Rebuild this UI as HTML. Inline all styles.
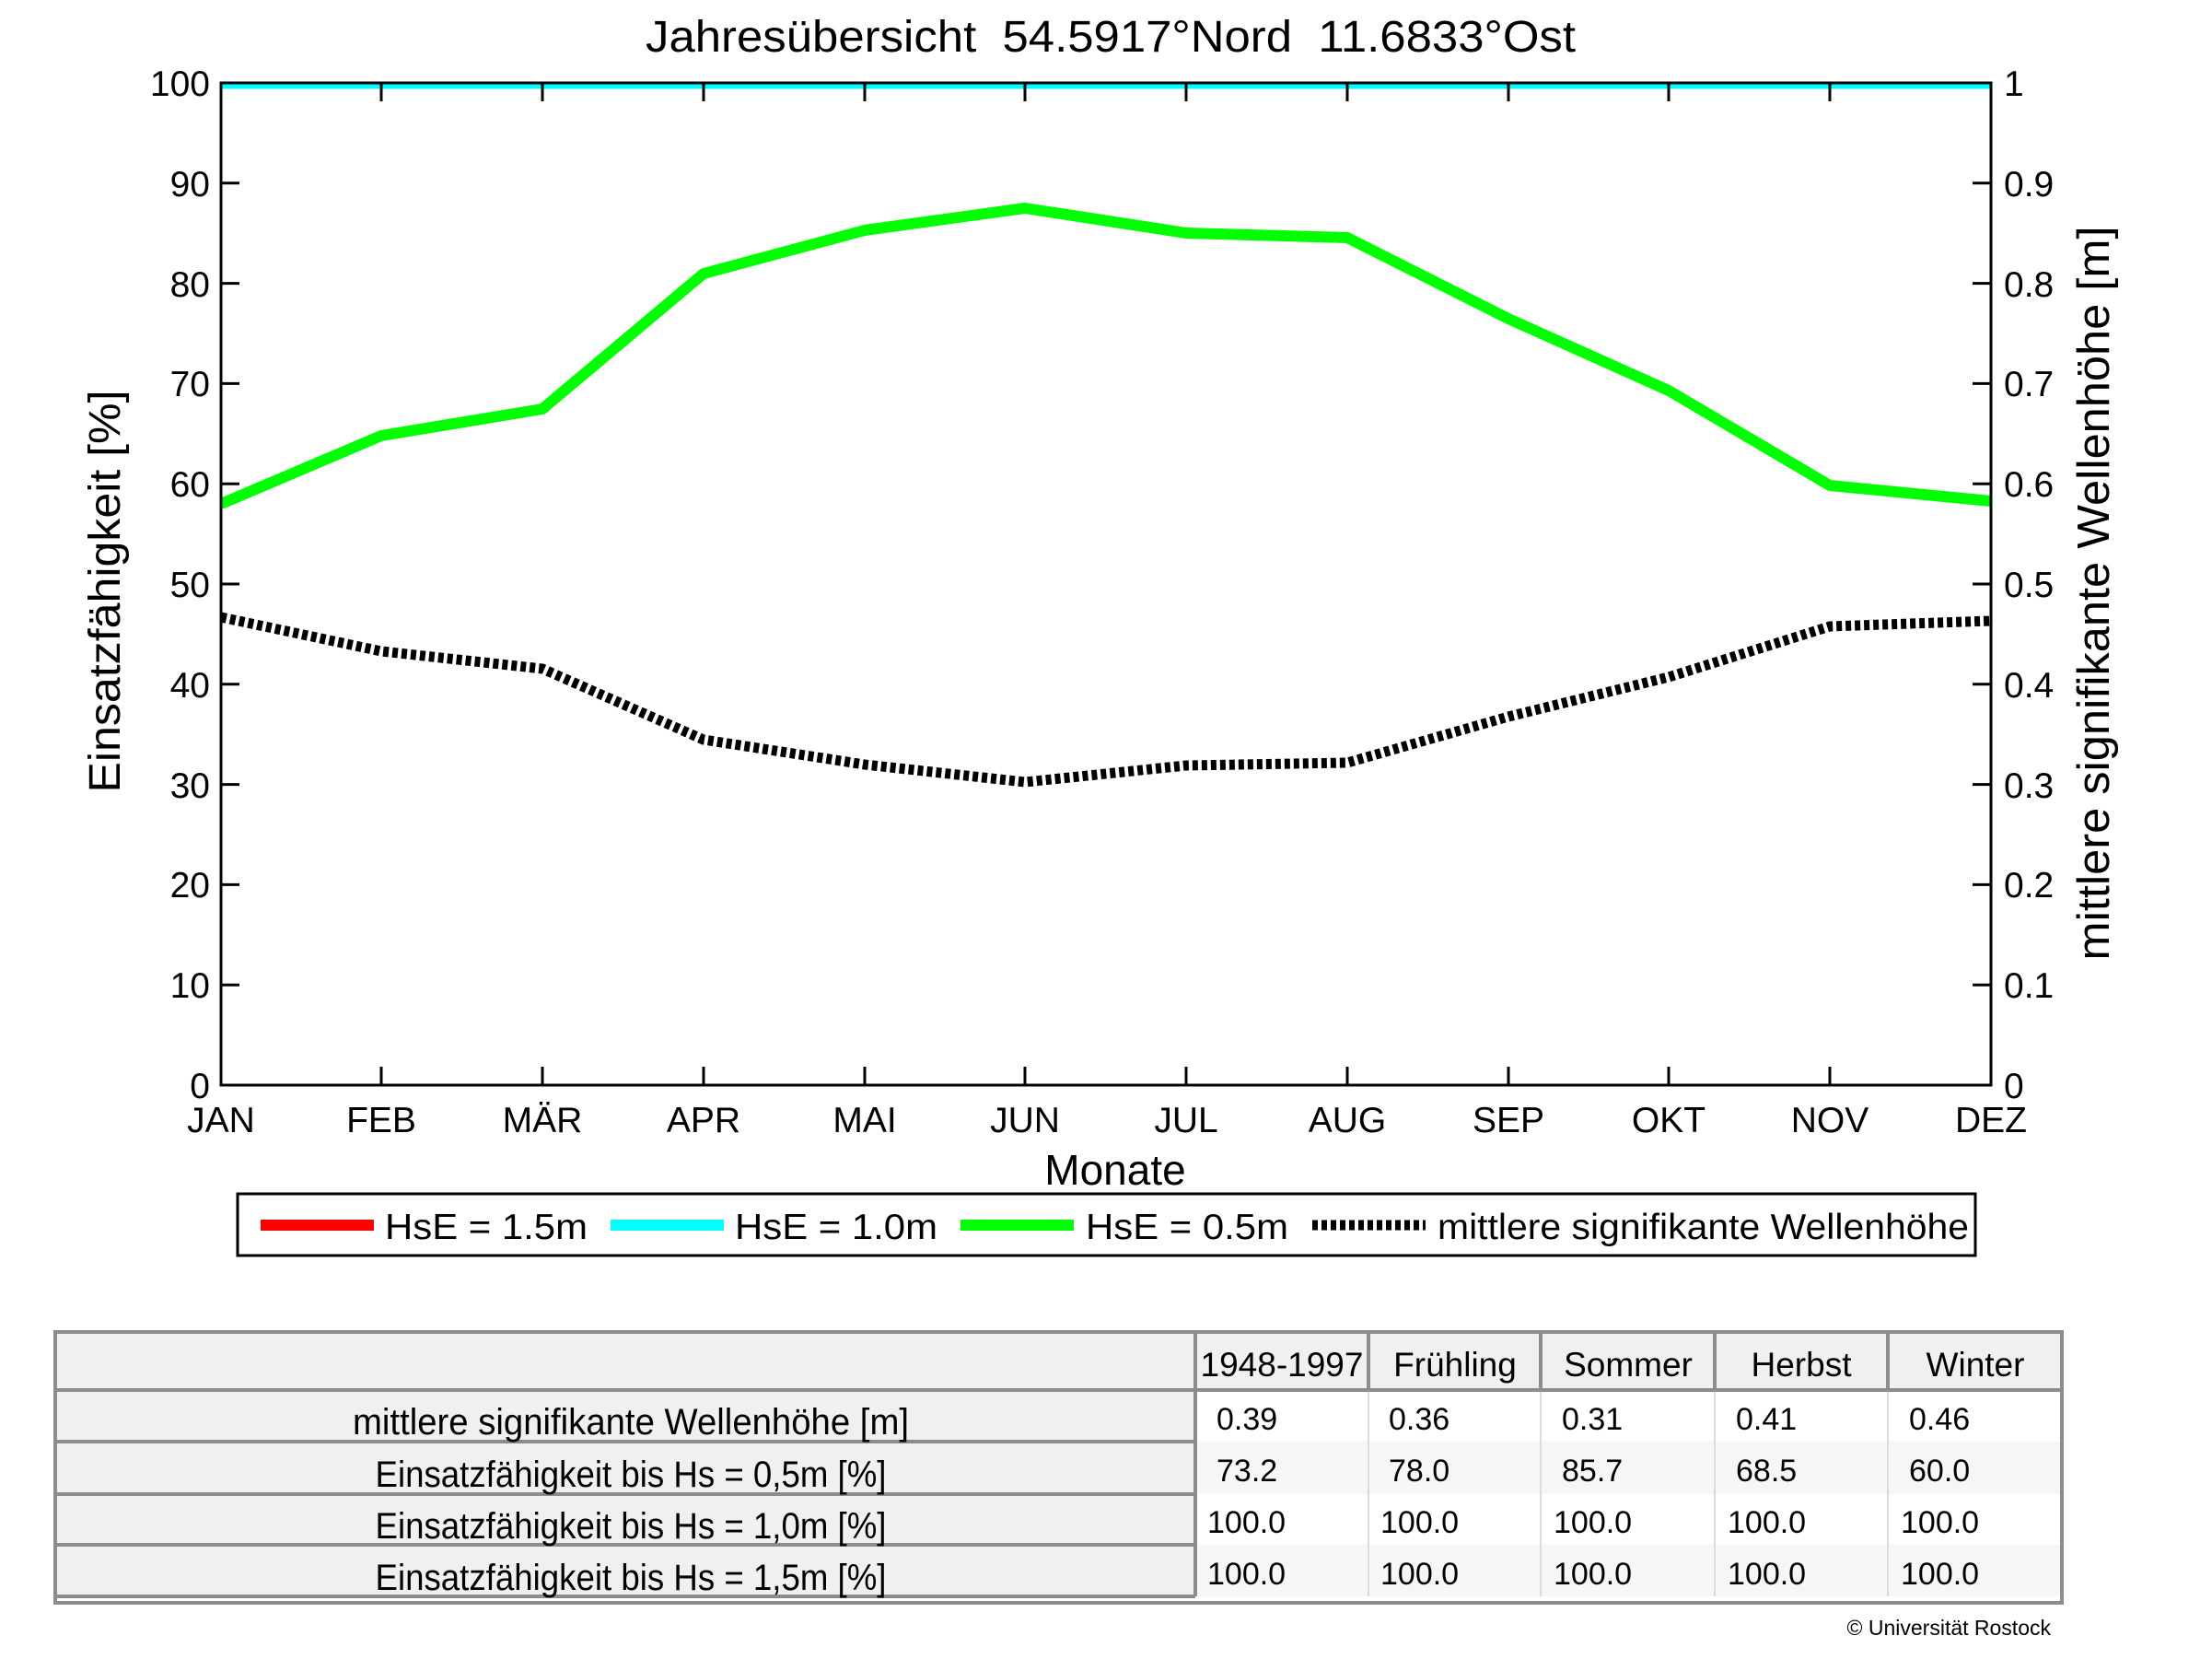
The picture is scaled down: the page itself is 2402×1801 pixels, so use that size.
<!DOCTYPE html>
<html><head><meta charset="utf-8"><style>
html,body{margin:0;padding:0;background:#fff;}
svg{display:block;}
text{font-family:"Liberation Sans",Arial,sans-serif;fill:#000;}
.tk{font-size:39px;}
</style></head><body>
<svg width="2402" height="1801" viewBox="0 0 2402 1801" xmlns="http://www.w3.org/2000/svg">
<rect width="2402" height="1801" fill="#fff"/>
<text x="1206" y="56" font-size="48" text-anchor="middle" textLength="1010" lengthAdjust="spacingAndGlyphs" xml:space="preserve">Jahresübersicht  54.5917°Nord  11.6833°Ost</text>
<defs><clipPath id="pc"><rect x="240" y="90" width="1922" height="1088"/></clipPath></defs>
<g clip-path="url(#pc)">
<line x1="240" y1="93" x2="2162" y2="93" stroke="#00ffff" stroke-width="7"/>
<polyline fill="none" stroke="#00ff00" stroke-width="12" stroke-linejoin="round" points="240,547 414,473 589,444 764,297 939,250 1113,226 1288,253 1463,258 1638,346 1812,424 1987,527 2162,544"/>
<polyline fill="none" stroke="#000" stroke-width="11" stroke-dasharray="6,4" points="240,670 414,707 589,726 764,803 939,830 1113,849 1288,831 1463,828 1638,778 1812,735 1987,680 2162,674"/>
</g>
<rect x="240" y="90" width="1922" height="1088" fill="none" stroke="#000" stroke-width="3"/>
<g stroke="#000" stroke-width="3">
<line x1="414" y1="90" x2="414" y2="110"/><line x1="589" y1="90" x2="589" y2="110"/><line x1="764" y1="90" x2="764" y2="110"/><line x1="939" y1="90" x2="939" y2="110"/><line x1="1113" y1="90" x2="1113" y2="110"/><line x1="1288" y1="90" x2="1288" y2="110"/><line x1="1463" y1="90" x2="1463" y2="110"/><line x1="1638" y1="90" x2="1638" y2="110"/><line x1="1812" y1="90" x2="1812" y2="110"/><line x1="1987" y1="90" x2="1987" y2="110"/>
<line x1="414" y1="1178" x2="414" y2="1158"/><line x1="589" y1="1178" x2="589" y2="1158"/><line x1="764" y1="1178" x2="764" y2="1158"/><line x1="939" y1="1178" x2="939" y2="1158"/><line x1="1113" y1="1178" x2="1113" y2="1158"/><line x1="1288" y1="1178" x2="1288" y2="1158"/><line x1="1463" y1="1178" x2="1463" y2="1158"/><line x1="1638" y1="1178" x2="1638" y2="1158"/><line x1="1812" y1="1178" x2="1812" y2="1158"/><line x1="1987" y1="1178" x2="1987" y2="1158"/>
<line x1="240" y1="198.8" x2="260" y2="198.8"/><line x1="240" y1="307.6" x2="260" y2="307.6"/><line x1="240" y1="416.4" x2="260" y2="416.4"/><line x1="240" y1="525.2" x2="260" y2="525.2"/><line x1="240" y1="634" x2="260" y2="634"/><line x1="240" y1="742.8" x2="260" y2="742.8"/><line x1="240" y1="851.6" x2="260" y2="851.6"/><line x1="240" y1="960.4" x2="260" y2="960.4"/><line x1="240" y1="1069.2" x2="260" y2="1069.2"/>
<line x1="2162" y1="198.8" x2="2142" y2="198.8"/><line x1="2162" y1="307.6" x2="2142" y2="307.6"/><line x1="2162" y1="416.4" x2="2142" y2="416.4"/><line x1="2162" y1="525.2" x2="2142" y2="525.2"/><line x1="2162" y1="634" x2="2142" y2="634"/><line x1="2162" y1="742.8" x2="2142" y2="742.8"/><line x1="2162" y1="851.6" x2="2142" y2="851.6"/><line x1="2162" y1="960.4" x2="2142" y2="960.4"/><line x1="2162" y1="1069.2" x2="2142" y2="1069.2"/>
</g>
<g class="tk" text-anchor="end">
<text x="228" y="104">100</text><text x="228" y="213">90</text><text x="228" y="322">80</text><text x="228" y="430">70</text><text x="228" y="539">60</text><text x="228" y="648">50</text><text x="228" y="757">40</text><text x="228" y="866">30</text><text x="228" y="974">20</text><text x="228" y="1083">10</text><text x="228" y="1192">0</text>
</g>
<g class="tk">
<text x="2176" y="104">1</text><text x="2176" y="213">0.9</text><text x="2176" y="322">0.8</text><text x="2176" y="430">0.7</text><text x="2176" y="539">0.6</text><text x="2176" y="648">0.5</text><text x="2176" y="757">0.4</text><text x="2176" y="866">0.3</text><text x="2176" y="974">0.2</text><text x="2176" y="1083">0.1</text><text x="2176" y="1192">0</text>
</g>
<g class="tk" text-anchor="middle">
<text x="240" y="1229">JAN</text><text x="414" y="1229">FEB</text><text x="589" y="1229">MÄR</text><text x="764" y="1229">APR</text><text x="939" y="1229">MAI</text><text x="1113" y="1229">JUN</text><text x="1288" y="1229">JUL</text><text x="1463" y="1229">AUG</text><text x="1638" y="1229">SEP</text><text x="1812" y="1229">OKT</text><text x="1987" y="1229">NOV</text><text x="2162" y="1229">DEZ</text>
</g>
<text x="1211" y="1286" font-size="46" text-anchor="middle">Monate</text>
<text transform="translate(130,642) rotate(-90)" font-size="48" text-anchor="middle" textLength="437" lengthAdjust="spacingAndGlyphs">Einsatzfähigkeit [%]</text>
<text transform="translate(2290,644) rotate(-90)" font-size="49" text-anchor="middle" textLength="797" lengthAdjust="spacingAndGlyphs">mittlere signifikante Wellenhöhe [m]</text>
<rect x="258" y="1296" width="1887" height="67" fill="#fff" stroke="#000" stroke-width="3"/>
<line x1="283" y1="1330" x2="406" y2="1330" stroke="#ff0000" stroke-width="12"/>
<line x1="663" y1="1330" x2="786" y2="1330" stroke="#00ffff" stroke-width="12"/>
<line x1="1043" y1="1330" x2="1166" y2="1330" stroke="#00ff00" stroke-width="12"/>
<line x1="1425" y1="1330" x2="1548" y2="1330" stroke="#000" stroke-width="11" stroke-dasharray="6,4"/>
<g class="tk" font-size="41"><text x="418" y="1345" textLength="220" lengthAdjust="spacingAndGlyphs">HsE = 1.5m</text><text x="798" y="1345" textLength="220" lengthAdjust="spacingAndGlyphs">HsE = 1.0m</text><text x="1179" y="1345" textLength="220" lengthAdjust="spacingAndGlyphs">HsE = 0.5m</text><text x="1561" y="1345" textLength="577" lengthAdjust="spacingAndGlyphs">mittlere signifikante Wellenhöhe</text></g>
<!-- table -->
<rect x="60" y="1446" width="2179" height="295" fill="#fff"/>
<rect x="60" y="1446" width="2179" height="63" fill="#f0f0f0"/>
<rect x="60" y="1509" width="1238" height="225" fill="#f0f0f0"/>
<rect x="1298" y="1565" width="941" height="57" fill="#f6f6f6"/>
<rect x="1298" y="1677" width="941" height="56" fill="#f6f6f6"/>
<g stroke="#dcdcdc" stroke-width="2">
<line x1="1486" y1="1509" x2="1486" y2="1733"/><line x1="1673" y1="1509" x2="1673" y2="1733"/><line x1="1862" y1="1509" x2="1862" y2="1733"/><line x1="2050" y1="1509" x2="2050" y2="1733"/>
</g>
<g stroke="#8c8c8c" stroke-width="4" fill="none">
<rect x="60" y="1446" width="2179" height="294"/>
<line x1="60" y1="1509" x2="2239" y2="1509"/>
<line x1="60" y1="1565" x2="1298" y2="1565"/><line x1="60" y1="1622" x2="1298" y2="1622"/><line x1="60" y1="1677" x2="1298" y2="1677"/><line x1="60" y1="1733" x2="1298" y2="1733"/>
<line x1="1298" y1="1446" x2="1298" y2="1733"/>
<line x1="1486" y1="1446" x2="1486" y2="1509"/><line x1="1673" y1="1446" x2="1673" y2="1509"/><line x1="1862" y1="1446" x2="1862" y2="1509"/><line x1="2050" y1="1446" x2="2050" y2="1509"/>
</g>
<g text-anchor="middle" font-size="37">
<text x="1392" y="1494">1948-1997</text>
<text x="1580" y="1494">Frühling</text><text x="1768" y="1494">Sommer</text><text x="1956" y="1494">Herbst</text><text x="2145" y="1494">Winter</text>
</g>
<g text-anchor="middle" font-size="40">
<text x="685" y="1557" textLength="604" lengthAdjust="spacingAndGlyphs">mittlere signifikante Wellenhöhe [m]</text>
<text x="685" y="1614" textLength="555" lengthAdjust="spacingAndGlyphs">Einsatzfähigkeit bis Hs = 0,5m [%]</text>
<text x="685" y="1670" textLength="555" lengthAdjust="spacingAndGlyphs">Einsatzfähigkeit bis Hs = 1,0m [%]</text>
<text x="685" y="1726" textLength="555" lengthAdjust="spacingAndGlyphs">Einsatzfähigkeit bis Hs = 1,5m [%]</text>
</g>
<g font-size="34" fill="#000">
<text x="1321" y="1552">0.39</text><text x="1508" y="1552">0.36</text><text x="1696" y="1552">0.31</text><text x="1885" y="1552">0.41</text><text x="2073" y="1552">0.46</text>
<text x="1321" y="1608">73.2</text><text x="1508" y="1608">78.0</text><text x="1696" y="1608">85.7</text><text x="1885" y="1608">68.5</text><text x="2073" y="1608">60.0</text>
<text x="1311" y="1664">100.0</text><text x="1499" y="1664">100.0</text><text x="1687" y="1664">100.0</text><text x="1876" y="1664">100.0</text><text x="2064" y="1664">100.0</text>
<text x="1311" y="1720">100.0</text><text x="1499" y="1720">100.0</text><text x="1687" y="1720">100.0</text><text x="1876" y="1720">100.0</text><text x="2064" y="1720">100.0</text>
</g>
<text x="2227" y="1775" font-size="23" text-anchor="end">© Universität Rostock</text>
</svg>
</body></html>
